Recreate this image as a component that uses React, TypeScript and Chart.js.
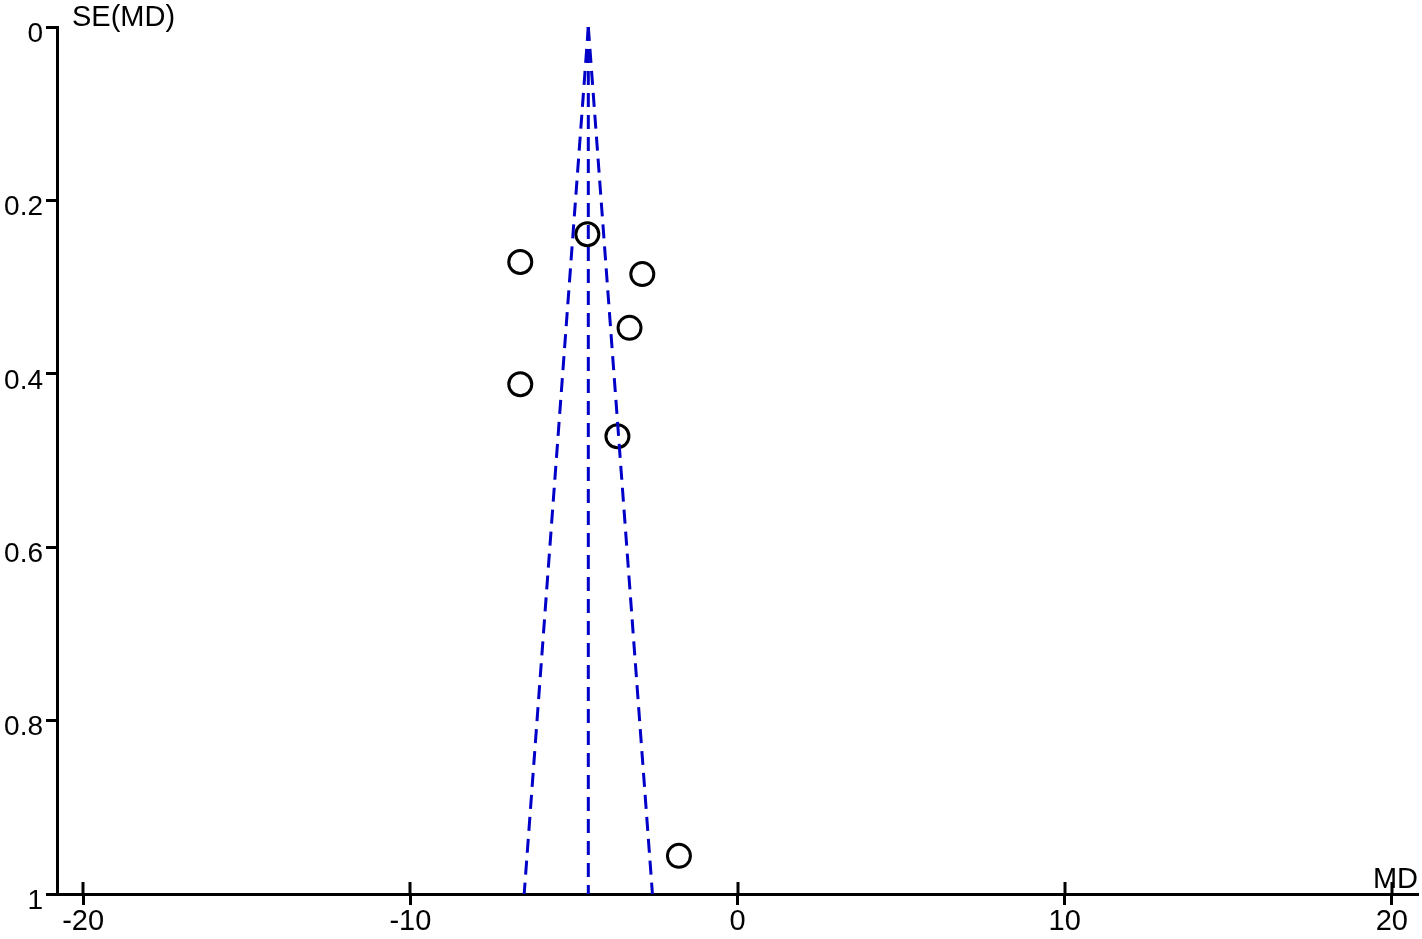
import React, { useEffect, useRef } from "react";
import { Chart, registerables } from "chart.js";

Chart.register(...registerables);

// Study estimates: mean difference and its standard error
const mdValues = [-4.59, -6.64, -2.91, -3.30, -6.64, -3.67, -1.79];
const seValues = [0.239, 0.271, 0.285, 0.347, 0.412, 0.472, 0.956];

// Funnel (pooled estimate and 95% limits) endpoints
const funnelCenterX = [-4.56, -4.56];
const funnelLeftX = [-4.56, -6.52];
const funnelRightX = [-4.56, -2.60];
const funnelSE = [0, 1];

const xTicks = [-20, -10, 0, 10, 20];
const yTicks = [0, 0.2, 0.4, 0.6, 0.8, 1];
const yTickLabels = ["0", "0.2", "0.4", "0.6", "0.8", "1"];

const yTitle = "SE(MD)";
const xTitle = "MD";

const FONT = "Arial, 'Liberation Sans', sans-serif";
const BLUE = "#0000c8";

export default function App() {
  const ref = useRef<HTMLCanvasElement | null>(null);

  useEffect(() => {
    document.body.style.margin = "0";
    const canvas = ref.current;
    if (!canvas) return;

    const lineDs = (xs: number[], label: string) => ({
      type: "line" as const,
      label,
      data: xs.map((x, i) => ({ x, y: funnelSE[i] })),
      borderColor: BLUE,
      borderWidth: 3,
      borderDash: [14, 8],
      pointRadius: 0,
      fill: false,
      tension: 0,
    });

    const overlay = {
      id: "overlay",
      afterDraw(chart: any) {
        const ctx = chart.ctx;
        const xs = chart.scales.x;
        const ys = chart.scales.y;
        ctx.save();
        ctx.strokeStyle = "#000";
        ctx.lineWidth = 3;
        // upward part of x tick marks (they cross the axis)
        for (const t of xTicks) {
          const px = Math.round(xs.getPixelForValue(t));
          ctx.beginPath();
          ctx.moveTo(px, ys.bottom);
          ctx.lineTo(px, ys.bottom - 12);
          ctx.stroke();
        }
        ctx.fillStyle = "#000";
        ctx.font = `29px ${FONT}`;
        ctx.textBaseline = "alphabetic";
        ctx.textAlign = "left";
        ctx.fillText(yTitle, xs.left + 15, ys.top - 1);
        ctx.textAlign = "right";
        ctx.fillText(xTitle, xs.right, ys.bottom - 6);
        ctx.restore();
      },
    };

    const chart = new Chart(canvas, {
      type: "scatter",
      data: {
        datasets: [
          lineDs(funnelLeftX, "lower"),
          lineDs(funnelCenterX, "pooled"),
          lineDs(funnelRightX, "upper"),
          {
            type: "scatter" as const,
            label: "studies",
            data: mdValues.map((x, i) => ({ x, y: seValues[i] })),
            pointRadius: 11.5,
            pointBorderWidth: 3,
            pointBorderColor: "#000",
            pointBackgroundColor: "rgba(0,0,0,0)",
          },
        ] as any,
      },
      options: {
        animation: false,
        responsive: false,
        maintainAspectRatio: false,
        layout: { autoPadding: false, padding: { top: 27, right: 4, left: 0, bottom: 0 } },
        plugins: { legend: { display: false }, tooltip: { enabled: false } },
        scales: {
          x: {
            type: "linear",
            min: -20.8,
            max: 20.8,
            afterBuildTicks: (s: any) => {
              s.ticks = xTicks.map((v) => ({ value: v }));
            },
            afterFit: (s: any) => {
              s.height = 45;
              s.paddingLeft = 0;
              s.paddingRight = 0;
            },
            border: { display: true, color: "#000", width: 3 },
            grid: {
              display: true,
              drawOnChartArea: false,
              drawTicks: true,
              tickLength: 11,
              tickWidth: 3,
              tickColor: "#000",
            },
            ticks: {
              color: "#000",
              font: { family: FONT, size: 29 },
              padding: 0,
              maxRotation: 0,
            },
          },
          y: {
            type: "linear",
            reverse: true,
            min: 0,
            max: 1,
            afterBuildTicks: (s: any) => {
              s.ticks = yTicks.map((v) => ({ value: v }));
            },
            afterFit: (s: any) => {
              s.width = 57;
              s.paddingTop = 0;
              s.paddingBottom = 0;
            },
            border: { display: true, color: "#000", width: 3 },
            grid: {
              display: true,
              drawOnChartArea: false,
              drawTicks: true,
              tickLength: 11,
              tickWidth: 3,
              tickColor: "#000",
            },
            ticks: {
              color: "#000",
              font: { family: FONT, size: 28 },
              padding: 3,
              labelOffset: 7,
              callback: (_v: any, i: number) => yTickLabels[i],
            },
          },
        },
      },
      plugins: [overlay],
    } as any);

    return () => chart.destroy();
  }, []);

  return <canvas ref={ref} width={1422} height={939} style={{ display: "block" }} />;
}
